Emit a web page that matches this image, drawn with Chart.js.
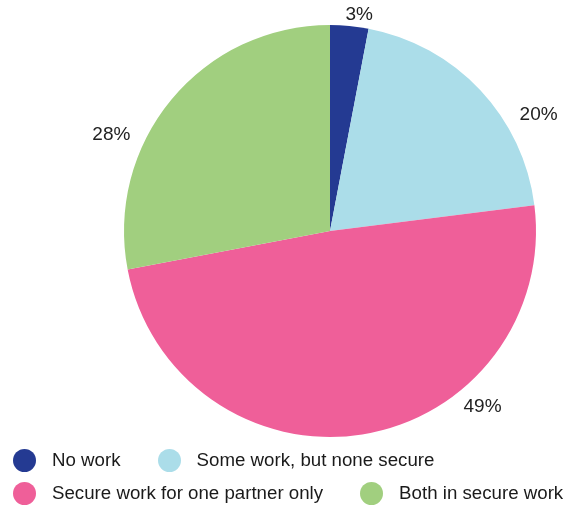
<!DOCTYPE html>
<html>
<head>
<meta charset="utf-8">
<script src="https://cdn.jsdelivr.net/npm/chart.js@4"></script>
<style>
  html, body { margin: 0; padding: 0; background: #fff; }
  #wrap { position: relative; width: 578px; height: 509px; }
  #legend {
    position: absolute; left: 13px; top: 449px;
    font-family: "Liberation Sans", Arial, sans-serif; font-size: 18.7px; color: #1a1a1a;
  }
  .row { display: flex; height: 22px; margin-bottom: 11px; white-space: nowrap; }
  .item { display: flex; align-items: center; margin-right: 37px; }
  .dot { width: 23px; height: 23px; border-radius: 50%; margin-right: 16px; flex: none; }
</style>
</head>
<body>
<div id="wrap">
  <canvas id="myPieChart" width="578" height="509"></canvas>
  <div id="legend"></div>
</div>
<script>
/* Pie chart */

var categories = ['No work', 'Some work, but none secure', 'Secure work for one partner only', 'Both in secure work'];
var shares = [3, 20, 49, 28];
var colours = ['#243a92', '#abdde9', '#ef5f99', '#a1cf7f'];

// where each percentage label sits: angle from 12 o'clock (deg) and distance from centre (px)
var labelAngle = [7.7, 60.8, 139.1, 293.8];
var labelDist = [218, 239, 233, 239];

var pieLabels = {
  id: 'pieLabels',
  afterDatasetsDraw: function (chart) {
    var ctx = chart.ctx;
    var arcs = chart.getDatasetMeta(0).data;
    ctx.save();
    ctx.font = '19px "Liberation Sans", Arial, sans-serif';
    ctx.fillStyle = '#222';
    ctx.textAlign = 'center';
    ctx.textBaseline = 'middle';
    arcs.forEach(function (arc, i) {
      var a = labelAngle[i] * Math.PI / 180;
      var x = arc.x + labelDist[i] * Math.sin(a);
      var y = arc.y - labelDist[i] * Math.cos(a);
      ctx.fillText(shares[i] + '%', x, y);
    });
    ctx.restore();
  },
};

var ctx = document.getElementById('myPieChart');

var myPieChart = new Chart(ctx, {
  type: 'pie',
  data: {
    labels: categories,
    datasets: [
      {
        data: shares,
        backgroundColor: colours,
        borderWidth: 0,
      },
    ],
  },
  options: {
    responsive: false,
    animation: false,
    layout: { padding: { left: 124, right: 42, top: 25, bottom: 72 } },
    plugins: {
      legend: { display: false },
      tooltip: { enabled: false },
    },
  },
  plugins: [pieLabels],
});

/* legend, two items per row */
var legend = document.getElementById('legend');
for (var r = 0; r < categories.length; r += 2) {
  var row = document.createElement('div');
  row.className = 'row';
  for (var i = r; i < Math.min(r + 2, categories.length); i++) {
    var item = document.createElement('div');
    item.className = 'item';
    var dot = document.createElement('span');
    dot.className = 'dot';
    dot.style.background = colours[i];
    var txt = document.createElement('span');
    txt.textContent = categories[i];
    item.appendChild(dot);
    item.appendChild(txt);
    row.appendChild(item);
  }
  legend.appendChild(row);
}
</script>
</body>
</html>
